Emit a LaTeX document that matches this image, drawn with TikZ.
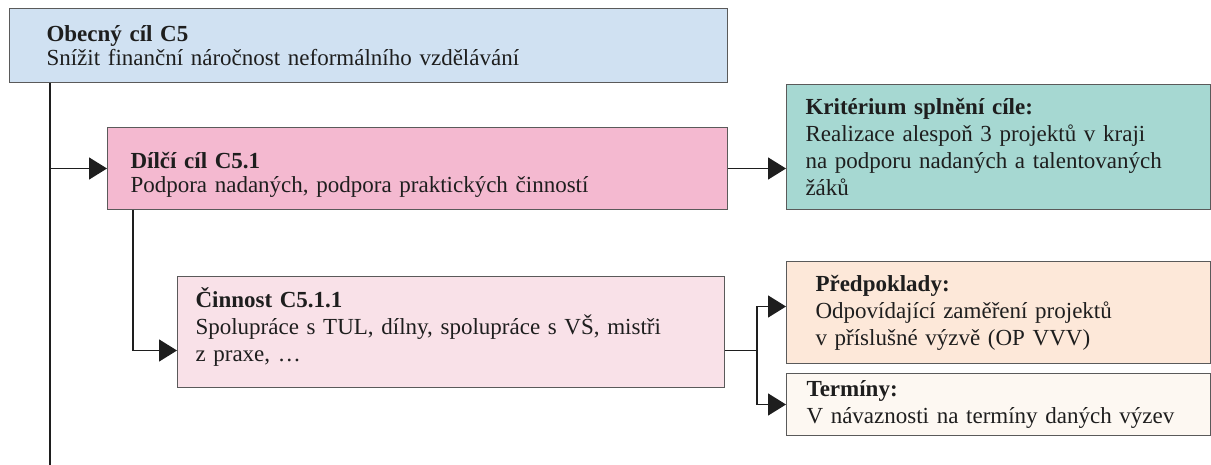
\documentclass[tikz,border=0pt]{standalone}
\usepackage{fontspec}
\setmainfont{Liberation Serif}
\usetikzlibrary{arrows.meta}

\definecolor{modra}{RGB}{208,225,242}
\definecolor{ruzova}{RGB}{244,185,208}
\definecolor{tyrkys}{RGB}{166,216,210}
\definecolor{svetleruzova}{RGB}{249,225,232}
\definecolor{broskev}{RGB}{253,232,217}
\definecolor{krem}{RGB}{253,248,242}
\definecolor{ramecek}{RGB}{90,90,90}
\definecolor{cerna}{RGB}{30,30,30}

\newcommand{\blok}[2]{\textbf{#1}\\#2}

\begin{document}
\begin{tikzpicture}[x=1pt,y=-1pt,
    krabice/.style={draw=ramecek, line width=1pt, anchor=north west, inner ysep=0pt,
      align=left, text=cerna, font=\fontsize{23}{27}\selectfont},
    hustse/.style={font=\fontsize{23}{24}\selectfont},
    sipka/.style={-{Triangle[length=18pt,width=22pt]}, line width=1.6pt, draw=cerna},
    cara/.style={line width=1.6pt, draw=cerna}]
  \useasboundingbox (0,0) rectangle (1211,465);

  % Obecný cíl
  \node[krabice, hustse, fill=modra, inner xsep=37pt, text width=644pt, minimum height=74pt] (obecny) at (9,8)
    {\blok{Obecný cíl C5}{Snížit finanční náročnost neformálního vzdělávání}};

  % Dílčí cíl a kritérium
  \node[krabice, hustse, fill=ruzova, inner xsep=23pt, text width=574pt, minimum height=82pt] (dilci) at (107,127)
    {\rule{0pt}{28pt}\blok{Dílčí cíl C5.1}{Podpora nadaných, podpora praktických činností}};
  \node[krabice, fill=tyrkys, inner xsep=19pt, text width=386pt, minimum height=125pt] (kriterium) at (786,84)
    {\blok{Kritérium splnění cíle:}{Realizace alespoň 3 projektů v kraji\\na podporu nadaných a talentovaných\\žáků}};

  % Činnost
  \node[krabice, fill=svetleruzova, inner xsep=18pt, text width=511pt, minimum height=111pt] (cinnost) at (177,276)
    {\blok{Činnost C5.1.1}{Spolupráce s TUL, dílny, spolupráce s VŠ, mistři\\z praxe, \dots}\rule[-15pt]{0pt}{0pt}};

  % Předpoklady a termíny
  \node[krabice, fill=broskev, inner xsep=29pt, text width=366pt, minimum height=102pt] (predpoklady) at (786,261)
    {\blok{Předpoklady:}{Odpovídající zaměření projektů\\v příslušné výzvě (OP VVV)}};
  \node[krabice, fill=krem, inner xsep=20pt, text width=384pt, minimum height=62pt] (terminy) at (786,373)
    {\blok{Termíny:}{V návaznosti na termíny daných výzev}};

  % Spojnice
  \coordinate (kmen) at (50,465);
  \draw[cara] (obecny.south -| kmen) -- (kmen);
  \draw[sipka] (kmen |- dilci.west) -- (dilci.west);
  \draw[sipka] (dilci.east) -- (dilci.east -| kriterium.west);
  \draw[sipka] ([xshift=26pt]dilci.south west) |- ([yshift=-18.5pt]cinnost.west);

  \coordinate (rozcesti) at ([xshift=32pt,yshift=-18.5pt]cinnost.east);
  \draw[cara] ([yshift=-18.5pt]cinnost.east) -- (rozcesti);
  \draw[sipka] (rozcesti) |- ([yshift=6pt]predpoklady.west);
  \draw[sipka] (rozcesti) |- (terminy.west);

\end{tikzpicture}
\end{document}
